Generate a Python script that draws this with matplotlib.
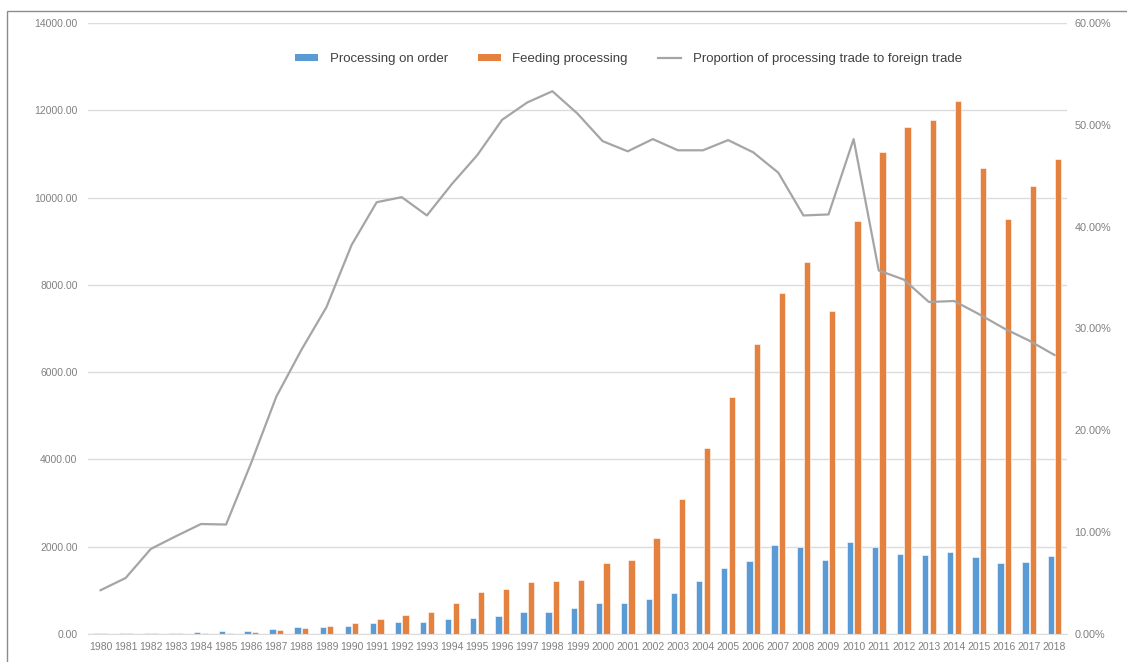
import matplotlib
matplotlib.use("Agg")
import matplotlib.pyplot as plt
import numpy as np
from matplotlib.patches import Rectangle, Patch
from matplotlib.lines import Line2D
from matplotlib.ticker import FuncFormatter, FixedLocator

plt.rcParams['font.family'] = ['Liberation Sans', 'DejaVu Sans']

years = [str(y) for y in range(1980, 2019)]
processing_on_order = [30, 30, 30, 30, 40, 60, 70, 115, 153, 168, 191, 245, 282, 282,
                       344, 374, 412, 504, 504, 589, 703, 717, 809, 940, 1222, 1505,
                       1673, 2040, 2000, 1695, 2110, 2000, 1830, 1805, 1880, 1763,
                       1636, 1653, 1797]
feeding_processing = [28, 28, 28, 28, 25, 20, 40, 85, 130, 183, 245, 344, 435, 504,
                      717, 962, 1031, 1185, 1222, 1237, 1620, 1696, 2200, 3100, 4270,
                      5420, 6640, 7810, 8520, 7395, 9458, 11042, 11619, 11788, 12212,
                      10678, 9508, 10254, 10881]
proportion_pct = [4.3, 5.5, 8.35, 9.6, 10.8, 10.75, 16.8, 23.3, 27.9, 32.1, 38.2, 42.4,
                  42.9, 41.1, 44.2, 47.0, 50.5, 52.2, 53.3, 51.1, 48.4, 47.4, 48.6,
                  47.5, 47.5, 48.5, 47.3, 45.3, 41.1, 41.2, 48.6, 35.7, 34.8, 32.6,
                  32.7, 31.4, 30.0, 28.8, 27.4]

labels = ["Processing on order", "Feeding processing",
          "Proportion of processing trade to foreign trade"]

BLUE = '#5B9BD5'
ORANGE = '#E5813F'
GRAY = '#A5A5A5'
TICK = '#808080'
GRID = '#DCDCDC'

W, H = 1127, 662
fig = plt.figure(figsize=(W / 100, H / 100), dpi=100)
ax = fig.add_axes([88 / W, (H - 634) / H, (1067 - 88) / W, (634 - 23) / H])

x = np.arange(len(years))
bw = 0.25
ax.bar(x - 0.15, processing_on_order, bw, color=BLUE, edgecolor='white', linewidth=0.4, zorder=2)
ax.bar(x + 0.15, feeding_processing, bw, color=ORANGE, edgecolor='white', linewidth=0.4, zorder=2)

ax.set_xlim(-0.5, len(years) - 0.5)
ax.set_ylim(0, 14000)
ax.yaxis.set_major_locator(FixedLocator(np.arange(0, 14001, 2000)))
ax.yaxis.set_major_formatter(FuncFormatter(lambda v, p: f"{v:.2f}"))
ax.set_xticks(x)
ax.set_xticklabels(years)
ax.grid(axis='y', color=GRID, linewidth=1.0, zorder=0)
ax.set_axisbelow(True)
for s in ['top', 'right', 'left']:
    ax.spines[s].set_visible(False)
ax.spines['bottom'].set_color(GRID)
ax.tick_params(axis='both', length=0, colors=TICK)
ax.tick_params(axis='y', labelsize=7.5, pad=7.5)
ax.tick_params(axis='x', labelsize=7.5, pad=5.5)

ax2 = ax.twinx()
ax2.plot(x, np.array(proportion_pct) / 100, color=GRAY, linewidth=1.6, zorder=3)
ax2.set_ylim(0, 0.6)
ax2.yaxis.set_major_locator(FixedLocator(np.arange(0, 0.61, 0.1)))
ax2.yaxis.set_major_formatter(FuncFormatter(lambda v, p: f"{v * 100:.2f}%"))
for s in ['top', 'right', 'left', 'bottom']:
    ax2.spines[s].set_visible(False)
ax2.tick_params(axis='y', length=0, colors=TICK, labelsize=7.8, pad=5.5)

handles = [Patch(facecolor=BLUE, edgecolor='none'),
           Patch(facecolor=ORANGE, edgecolor='none'),
           Line2D([0], [0], color=GRAY, linewidth=1.6)]
leg = ax.legend(handles, labels, ncol=3, loc='center',
                bbox_to_anchor=((628.5 - 88) / (1067 - 88), (634 - 59) / (634 - 23)),
                frameon=False, fontsize=9.5, handlelength=1.75, handleheight=0.5,
                handletextpad=0.85, columnspacing=2.3, labelcolor='#404040')

fig.add_artist(Rectangle((7 / W, -0.02), 1.0, 1 - 11 / H + 0.02, transform=fig.transFigure,
                         fill=False, edgecolor='#8C8C8C', linewidth=1.0))

fig.savefig("out.png", dpi=100)
